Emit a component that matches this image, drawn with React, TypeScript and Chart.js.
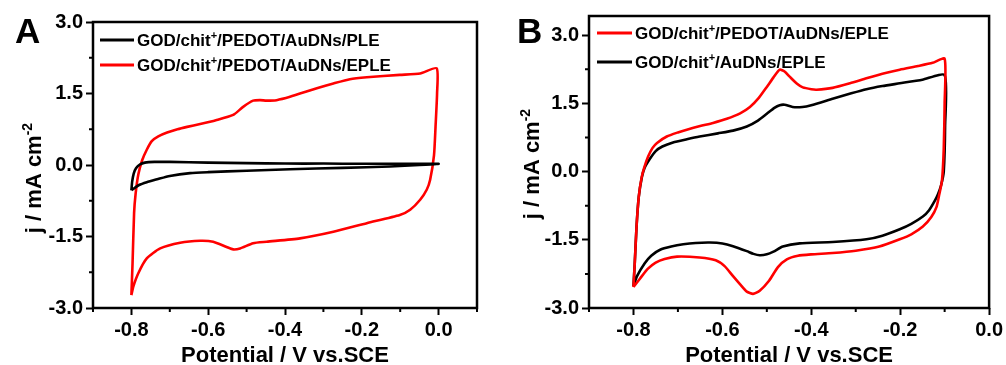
import React, { useEffect, useRef } from 'react';
import { Chart, registerables } from 'chart.js';

Chart.register(...registerables);

const FONT = '"Liberation Sans", Arial, Helvetica, sans-serif';

// ---------- Panel A data (potential V, current density mA cm^-2) ----------
const A_PLE_V = [-0.800, -0.798, -0.794, -0.788, -0.778, -0.765, -0.740, -0.700, -0.600, -0.500, -0.400, -0.300, -0.200, -0.100, 0.000,
  -0.050, -0.127, -0.250, -0.387, -0.500, -0.600, -0.647, -0.700, -0.733, -0.760, -0.780, -0.800];
const A_PLE_J = [-0.53, -0.35, -0.18, -0.07, 0.01, 0.05, 0.065, 0.065, 0.05, 0.04, 0.03, 0.03, 0.025, 0.025, 0.025,
  0.00, -0.03, -0.06, -0.09, -0.12, -0.15, -0.17, -0.23, -0.30, -0.36, -0.42, -0.53];

const A_EPLE_V = [-0.800, -0.797, -0.793, -0.789, -0.782, -0.772, -0.760, -0.747, -0.730, -0.707, -0.680, -0.655, -0.621, -0.580, -0.535, -0.509, -0.483, -0.465, -0.448, -0.422, -0.387, -0.317, -0.274, -0.231, -0.187, -0.101, -0.048, -0.005,
  -0.004, -0.008, -0.012, -0.022, -0.031, -0.048, -0.074, -0.101, -0.187, -0.274, -0.361, -0.448, -0.483, -0.517, -0.535, -0.552, -0.587, -0.621, -0.673, -0.725, -0.760, -0.782, -0.795, -0.800];
const A_EPLE_J = [-2.73, -2.06, -1.01, -0.60, -0.20, 0.10, 0.32, 0.50, 0.60, 0.68, 0.75, 0.80, 0.86, 0.94, 1.05, 1.22, 1.35, 1.36, 1.35, 1.36, 1.43, 1.61, 1.71, 1.80, 1.84, 1.89, 1.92, 2.03,
  1.50, 0.80, 0.20, -0.31, -0.52, -0.73, -0.94, -1.05, -1.22, -1.40, -1.54, -1.61, -1.64, -1.75, -1.77, -1.72, -1.61, -1.59, -1.63, -1.75, -1.96, -2.27, -2.55, -2.73];

// ---------- Panel B data ----------
const B_PEDOT_V = [-0.800, -0.797, -0.793, -0.788, -0.782, -0.776, -0.767, -0.757, -0.747, -0.725, -0.700, -0.680, -0.650, -0.621, -0.590, -0.560, -0.538, -0.518, -0.500, -0.485, -0.471, -0.460, -0.448, -0.432, -0.419, -0.400, -0.388, -0.352, -0.310, -0.276, -0.240, -0.201, -0.160, -0.127, -0.100,
  -0.100, -0.102, -0.106, -0.112, -0.118, -0.130, -0.149, -0.175, -0.201, -0.247, -0.300, -0.352, -0.400, -0.430, -0.455, -0.475, -0.495, -0.516, -0.531, -0.545, -0.560, -0.576, -0.595, -0.615, -0.651, -0.702, -0.730, -0.750, -0.768, -0.785, -0.800];
const B_PEDOT_J = [-2.54, -2.00, -1.20, -0.55, -0.15, 0.08, 0.33, 0.52, 0.63, 0.77, 0.86, 0.92, 1.00, 1.07, 1.16, 1.28, 1.42, 1.62, 1.86, 2.07, 2.24, 2.20, 2.08, 1.93, 1.85, 1.81, 1.80, 1.84, 1.95, 2.05, 2.15, 2.24, 2.32, 2.39, 2.48,
  1.50, 0.50, -0.20, -0.50, -0.77, -1.00, -1.21, -1.38, -1.49, -1.65, -1.74, -1.79, -1.82, -1.85, -1.93, -2.10, -2.40, -2.62, -2.69, -2.64, -2.48, -2.30, -2.08, -1.95, -1.89, -1.87, -1.92, -2.00, -2.14, -2.35, -2.54];

const B_NOPEDOT_V = [-0.800, -0.797, -0.793, -0.788, -0.781, -0.775, -0.763, -0.750, -0.735, -0.711, -0.680, -0.651, -0.610, -0.576, -0.545, -0.520, -0.500, -0.483, -0.471, -0.460, -0.442, -0.420, -0.400, -0.352, -0.310, -0.276, -0.240, -0.201, -0.150, -0.100,
  -0.099, -0.102, -0.108, -0.115, -0.122, -0.135, -0.149, -0.175, -0.201, -0.240, -0.276, -0.352, -0.426, -0.464, -0.485, -0.500, -0.516, -0.530, -0.545, -0.576, -0.600, -0.628, -0.660, -0.688, -0.715, -0.740, -0.760, -0.775, -0.792, -0.800];
const B_NOPEDOT_J = [-2.52, -2.00, -1.20, -0.55, -0.12, 0.08, 0.28, 0.45, 0.55, 0.64, 0.71, 0.77, 0.84, 0.90, 0.99, 1.12, 1.27, 1.40, 1.46, 1.47, 1.42, 1.42, 1.46, 1.60, 1.72, 1.81, 1.88, 1.94, 2.02, 2.12,
  1.00, 0.00, -0.30, -0.50, -0.64, -0.85, -0.99, -1.15, -1.27, -1.41, -1.49, -1.55, -1.58, -1.65, -1.76, -1.82, -1.84, -1.81, -1.75, -1.64, -1.58, -1.56, -1.57, -1.60, -1.65, -1.72, -1.85, -2.02, -2.30, -2.52];

// ---------- Labels ----------
const LABEL_A_PLE = 'GOD/chit⁺/PEDOT/AuDNs/PLE';
const LABEL_A_EPLE = 'GOD/chit⁺/PEDOT/AuDNs/EPLE';
const LABEL_B_PEDOT = 'GOD/chit⁺/PEDOT/AuDNs/EPLE';
const LABEL_B_NOPEDOT = 'GOD/chit⁺/AuDNs/EPLE';
const X_TITLE = 'Potential / V vs.SCE';
const Y_TITLE = 'j / mA cm⁻²';

const zip = (xs: number[], ys: number[]) => xs.map((x, i) => ({ x, y: ys[i] }));

const SUP: Record<string, string> = { '⁺': '+', '⁻': '-', '²': '2' };

function parseRich(text: string) {
  const segs: { t: string; sup: boolean }[] = [];
  for (const ch of text) {
    const sup = ch in SUP;
    const c = sup ? SUP[ch] : ch;
    const last = segs[segs.length - 1];
    if (last && last.sup === sup) last.t += c;
    else segs.push({ t: c, sup });
  }
  return segs;
}

function drawRich(ctx: CanvasRenderingContext2D, text: string, x: number, y: number, size: number, align: 'left' | 'center') {
  const segs = parseRich(text);
  const mainF = `bold ${size}px ${FONT}`;
  const supF = `bold ${Math.round(size * 0.62)}px ${FONT}`;
  const widths = segs.map((s) => {
    ctx.font = s.sup ? supF : mainF;
    return ctx.measureText(s.t).width;
  });
  const total = widths.reduce((a, b) => a + b, 0);
  let cx = align === 'center' ? x - total / 2 : x;
  ctx.textAlign = 'left';
  ctx.textBaseline = 'alphabetic';
  segs.forEach((s, i) => {
    ctx.font = s.sup ? supF : mainF;
    ctx.fillText(s.t, cx, s.sup ? y - size * 0.4 : y);
    cx += widths[i];
  });
}

const isMajorX = (v: number) => Math.round(v * 10) % 2 === 0;
const isMajorY = (v: number) => Math.round(v / 0.75) % 2 === 0;
const MINOR_LEN = 4;

const cvDecor = {
  id: 'cvDecor',
  afterDraw(chart: any, _args: any, opts: any) {
    const { ctx, chartArea: ca } = chart;
    ctx.save();
    // minor ticks (shorter than the major ones drawn by the scales)
    ctx.strokeStyle = '#000';
    ctx.lineWidth = 2;
    ctx.beginPath();
    const xs = chart.scales.x;
    xs.ticks.forEach((t: any) => {
      if (isMajorX(t.value)) return;
      const px = xs.getPixelForValue(t.value);
      ctx.moveTo(px, ca.bottom);
      ctx.lineTo(px, ca.bottom + MINOR_LEN);
    });
    const ys = chart.scales.y;
    ys.ticks.forEach((t: any) => {
      if (isMajorY(t.value)) return;
      const py = ys.getPixelForValue(t.value);
      ctx.moveTo(ca.left, py);
      ctx.lineTo(ca.left - MINOR_LEN, py);
    });
    ctx.stroke();
    // frame
    ctx.lineWidth = 2.5;
    ctx.strokeRect(ca.left, ca.top, ca.right - ca.left, ca.bottom - ca.top);
    // panel letter
    ctx.fillStyle = '#000';
    ctx.font = `bold 35px ${FONT}`;
    ctx.textAlign = 'left';
    ctx.textBaseline = 'alphabetic';
    ctx.fillText(opts.letter, opts.letterX, opts.letterY);
    // y title
    ctx.save();
    ctx.translate(opts.yTitleX, opts.yTitleY);
    ctx.rotate(-Math.PI / 2);
    drawRich(ctx, opts.yTitle, 0, 0, 22, 'center');
    ctx.restore();
    // legend
    (opts.legendOrder as number[]).forEach((di, k) => {
      const ds = chart.data.datasets[di];
      const y = ca.top + opts.legendTop + k * opts.legendGap;
      const x0 = ca.left + opts.legendLeft;
      ctx.strokeStyle = ds.borderColor;
      ctx.lineWidth = 3;
      ctx.beginPath();
      ctx.moveTo(x0, y);
      ctx.lineTo(x0 + opts.legendLine, y);
      ctx.stroke();
      ctx.fillStyle = '#000';
      drawRich(ctx, ds.label, x0 + opts.legendLine + 3, y + 0.36 * 17, 17, 'left');
    });
    ctx.restore();
  },
};

function fmt(v: number) {
  let r = Math.round(v * 10) / 10;
  if (Math.abs(r) < 1e-9) r = 0;
  return r.toFixed(1);
}

function makeConfig(p: any): any {
  return {
    type: 'scatter',
    data: {
      datasets: p.series.map((s: any) => ({
        label: s.label,
        data: zip(s.v, s.j),
        showLine: true,
        borderColor: s.color,
        backgroundColor: s.color,
        borderWidth: 2.6,
        pointRadius: 0,
        pointHoverRadius: 0,
        tension: 0.2,
        fill: false,
      })),
    },
    plugins: [cvDecor],
    options: {
      responsive: false,
      animation: false,
      devicePixelRatio: 1,
      events: [],
      layout: { padding: { left: 0, right: p.padRight, top: p.padTop, bottom: 0 } },
      plugins: {
        legend: { display: false },
        tooltip: { enabled: false },
        cvDecor: p.decor,
      },
      scales: {
        x: {
          type: 'linear',
          min: p.xMin,
          max: p.xMax,
          afterFit: (s: any) => { s.height = 57; },
          grid: {
            drawOnChartArea: false, drawTicks: true, tickLength: 7, tickWidth: 2,
            tickColor: (c: any) => (c.tick && isMajorX(c.tick.value) ? '#000' : 'rgba(0,0,0,0)'),
          },
          border: { display: false },
          ticks: {
            stepSize: 0.1,
            autoSkip: false,
            maxRotation: 0,
            includeBounds: false,
            padding: 3,
            color: '#000',
            font: { family: FONT, size: 20, weight: 'bold' },
            callback: (v: number) => (isMajorX(v) ? fmt(v) : ''),
          },
          title: {
            display: true,
            text: X_TITLE,
            color: '#000',
            font: { family: FONT, size: 22, weight: 'bold' },
            padding: { top: 0, bottom: -4 },
          },
        },
        y: {
          type: 'linear',
          min: p.yMin,
          max: p.yMax,
          afterFit: (s: any) => { s.width = p.yWidth; },
          grid: {
            drawOnChartArea: false, drawTicks: true, tickLength: 7, tickWidth: 2,
            tickColor: (c: any) => (c.tick && isMajorY(c.tick.value) ? '#000' : 'rgba(0,0,0,0)'),
          },
          border: { display: false },
          ticks: {
            stepSize: 0.75,
            autoSkip: false,
            includeBounds: false,
            padding: 3,
            color: '#000',
            font: { family: FONT, size: 20, weight: 'bold' },
            callback: (v: number) => (isMajorY(v) ? fmt(v) : ''),
          },
        },
      },
    },
  };
}

const PANEL_A = {
  series: [
    { label: LABEL_A_PLE, v: A_PLE_V, j: A_PLE_J, color: '#000000' },
    { label: LABEL_A_EPLE, v: A_EPLE_V, j: A_EPLE_J, color: '#ff0000' },
  ],
  xMin: -0.9, xMax: 0.1, yMin: -3, yMax: 3,
  padRight: 18, padTop: 22, yWidth: 93,
  decor: {
    letter: 'A', letterX: 15, letterY: 43,
    yTitle: Y_TITLE, yTitleX: 41, yTitleY: 178,
    legendOrder: [0, 1], legendTop: 18, legendGap: 25, legendLeft: 7, legendLine: 34,
  },
};

const PANEL_B = {
  series: [
    { label: LABEL_B_PEDOT, v: B_PEDOT_V, j: B_PEDOT_J, color: '#ff0000' },
    { label: LABEL_B_NOPEDOT, v: B_NOPEDOT_V, j: B_NOPEDOT_J, color: '#000000' },
  ],
  xMin: -0.9, xMax: 0.0, yMin: -3, yMax: 3.42,
  padRight: 16, padTop: 16, yWidth: 94,
  decor: {
    letter: 'B', letterX: 22, letterY: 43,
    yTitle: Y_TITLE, yTitleX: 44, yTitleY: 164,
    legendOrder: [0, 1], legendTop: 17, legendGap: 29, legendLeft: 8, legendLine: 35,
  },
};

function Panel({ cfg, left, width }: { cfg: any; left: number; width: number }) {
  const ref = useRef<HTMLCanvasElement>(null);
  useEffect(() => {
    if (!ref.current) return;
    const chart = new Chart(ref.current, makeConfig(cfg));
    return () => chart.destroy();
  }, [cfg]);
  return (
    <canvas
      ref={ref}
      width={width}
      height={365}
      style={{ position: 'absolute', left, top: 0, width, height: 365, display: 'block' }}
    />
  );
}

export default function App() {
  return (
    <div style={{ position: 'absolute', left: 0, top: 0, width: 1006, height: 365, background: '#fff', overflow: 'hidden' }}>
      <Panel cfg={PANEL_A} left={0} width={495} />
      <Panel cfg={PANEL_B} left={495} width={511} />
    </div>
  );
}
